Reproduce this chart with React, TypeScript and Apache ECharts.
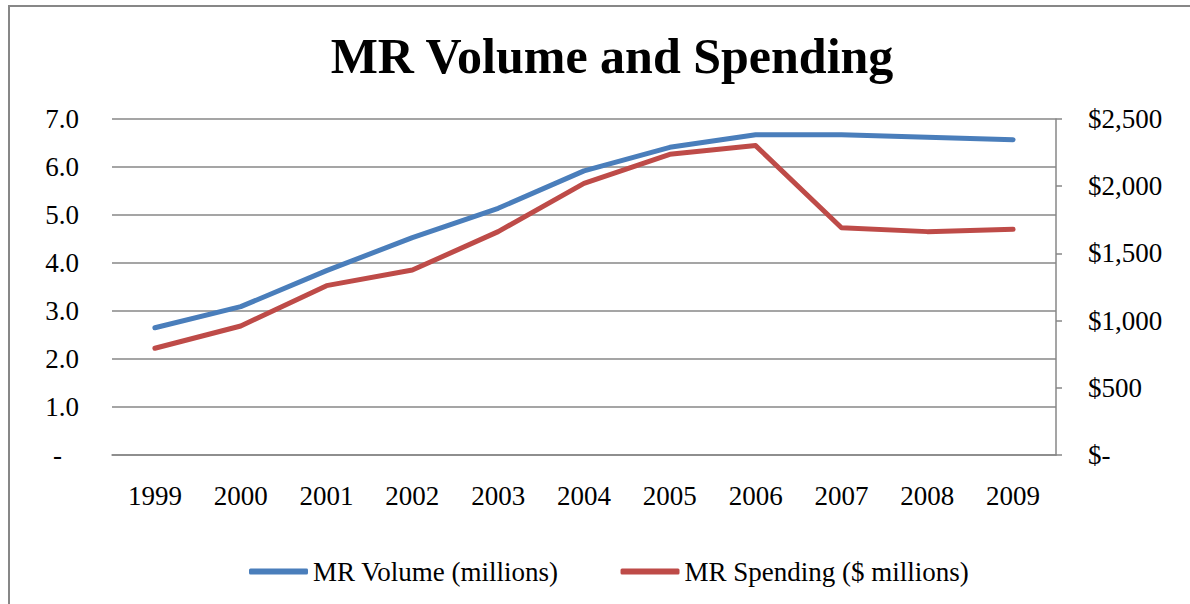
import React, { useEffect, useRef } from "react";
import * as echarts from "echarts";

const years = ["1999", "2000", "2001", "2002", "2003", "2004", "2005", "2006", "2007", "2008", "2009"];
const volume = [2.65, 3.09, 3.84, 4.53, 5.14, 5.92, 6.41, 6.67, 6.67, 6.62, 6.57];
const spending = [794, 960, 1260, 1376, 1662, 2021, 2237, 2302, 1691, 1662, 1679];
const seriesNames = ["MR Volume (millions)", "MR Spending ($ millions)"];
const titleText = "MR Volume and Spending";

const FONT = "'Liberation Serif', 'Times New Roman', serif";
const GRAY = "#878787";
const FS = 27;

export default function App() {
  const ref = useRef<HTMLDivElement>(null);
  useEffect(() => {
    if (!ref.current) return;
    const chart = echarts.init(ref.current, undefined, { renderer: "svg" });
    chart.setOption({
      animation: false,
      backgroundColor: "#ffffff",
      title: {
        text: titleText,
        left: 607,
        textAlign: "center",
        top: 26,
        textStyle: { fontFamily: FONT, fontSize: 50, fontWeight: "bold", color: "#000" },
      },
      graphic: [
        {
          type: "polyline",
          shape: { points: [[9, 620], [9, 6], [1195, 6]] },
          style: { stroke: GRAY, lineWidth: 2, fill: "none" },
          silent: true,
        },
      ],
      legend: {
        data: seriesNames,
        left: 244,
        top: 553,
        icon: "roundRect",
        itemWidth: 59,
        itemHeight: 6,
        itemGap: 62,
        textStyle: { fontFamily: FONT, fontSize: FS, color: "#000" },
      },
      grid: { left: 112, right: 134, top: 119, bottom: 149 },
      xAxis: {
        type: "category",
        data: years,
        boundaryGap: true,
        axisLine: { show: true, lineStyle: { color: GRAY, width: 1.5 } },
        axisTick: { show: false },
        axisLabel: { fontFamily: FONT, fontSize: FS, color: "#000", margin: 27 },
      },
      yAxis: [
        {
          type: "value",
          min: 0,
          max: 7,
          interval: 1,
          axisLine: { show: false },
          axisTick: { show: false },
          splitLine: { show: true, lineStyle: { color: GRAY, width: 1.5 } },
          axisLabel: {
            fontFamily: FONT,
            fontSize: FS,
            color: "#000",
            margin: 33,
            formatter: (v: number) => (v === 0 ? "{d|-}" : v.toFixed(1)),
            rich: { d: { fontFamily: FONT, fontSize: FS, color: "#000", padding: [0, 17, 0, 0] } },
          },
        },
        {
          type: "value",
          min: 0,
          max: 2500,
          interval: 500,
          position: "right",
          axisLine: { show: true, lineStyle: { color: GRAY, width: 1.5 } },
          axisTick: { show: true, length: 6, lineStyle: { color: GRAY, width: 1.5 } },
          splitLine: { show: false },
          axisLabel: {
            fontFamily: FONT,
            fontSize: FS,
            color: "#000",
            margin: 32,
            formatter: (v: number) => (v === 0 ? "$-" : "$" + v.toLocaleString("en-US")),
          },
        },
      ],
      series: [
        {
          name: seriesNames[0],
          type: "line",
          yAxisIndex: 0,
          data: volume,
          symbol: "none",
          itemStyle: { color: "#4A7EBB" },
          lineStyle: { color: "#4A7EBB", width: 5, cap: "round", join: "round" },
          z: 3,
        },
        {
          name: seriesNames[1],
          type: "line",
          yAxisIndex: 1,
          data: spending,
          symbol: "none",
          itemStyle: { color: "#BE4B48" },
          lineStyle: { color: "#BE4B48", width: 5, cap: "round", join: "round" },
          z: 2,
        },
      ],
    });
    return () => chart.dispose();
  }, []);
  return (
    <div
      ref={ref}
      style={{ position: "fixed", left: 0, top: 0, width: 1190, height: 604, background: "#fff" }}
    />
  );
}
